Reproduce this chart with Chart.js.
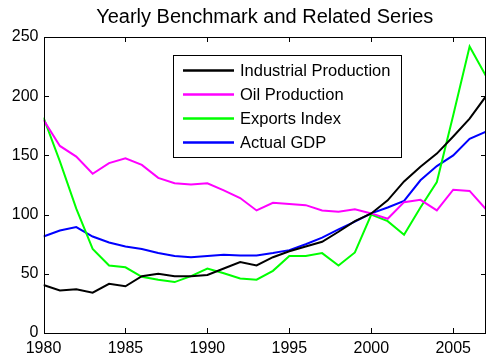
<!DOCTYPE html>
<html>
<head>
<meta charset="utf-8">
<script src="https://cdn.jsdelivr.net/npm/chart.js@4.4.0/dist/chart.umd.min.js"></script>
<style>
  body { margin: 0; background: #fff; }
  #wrap { width: 486px; height: 362px; }
</style>
</head>
<body>
<div id="wrap"><canvas id="series"></canvas></div>
<script>
const years = [1980, 1981, 1982, 1983, 1984, 1985, 1986, 1987, 1988, 1989,
  1990, 1991, 1992, 1993, 1994, 1995, 1996, 1997, 1998, 1999,
  2000, 2001, 2002, 2003, 2004, 2005, 2006, 2007]

const industrialProduction = [40.5, 36, 37, 34, 41.5, 39.5, 48, 50, 48, 48,
  49, 54.5, 60, 57, 64, 69, 73, 77, 85.5, 94.5,
  101, 112, 128, 140.5, 151.5, 166, 181, 200]
const oilProduction = [180, 158, 149, 134.5, 143.5, 147.5, 142, 131, 126.5, 125.5,
  126.5, 120.5, 114, 103.5, 110, 109, 108, 103.5, 102.5, 104.5,
  101, 96.5, 110.5, 112.5, 103.5, 121, 120, 104.5]
const exportsIndex = [182, 145, 105, 71, 57, 55.5, 47.5, 45, 43, 48,
  54.5, 50.5, 46, 45, 52.5, 65, 65, 67.5, 57, 68,
  100, 94.5, 83, 106, 127.5, 184, 242, 217]
const actualGDP = [81.5, 86.5, 89.5, 81.5, 76.5, 73, 71, 67.5, 65, 64,
  65, 66, 65.5, 65.5, 67.5, 70, 75, 80.5, 87.5, 94,
  101, 106, 111.5, 129, 141, 150, 164, 170]

const seriesNames = ['Industrial Production', 'Oil Production', 'Exports Index', 'Actual GDP']
const seriesColors = ['#000000', '#ff00ff', '#00ff00', '#0000ff']
const seriesValues = [industrialProduction, oilProduction, exportsIndex, actualGDP]

const xTicks = [1980, 1985, 1990, 1995, 2000, 2005]
const yTicks = [0, 50, 100, 150, 200, 250]

const FONT = "'Liberation Sans', Arial, Helvetica, sans-serif"

// box around the plot, inward tick marks on all four sides, boxed legend
// (thin lines are filled as 1px rects so they land on whole pixels)
const decorations = {
  id: 'decorations',
  afterDraw(chart) {
    const { ctx, chartArea: a, scales } = chart
    const len = 5
    const left = Math.round(a.left)
    const right = Math.round(a.right) - 1
    const top = Math.round(a.top)
    const bottom = Math.round(a.bottom)
    ctx.save()
    ctx.globalAlpha = 1
    ctx.globalCompositeOperation = 'source-over'
    ctx.fillStyle = '#000'
    xTicks.forEach(v => {
      const px = Math.round(scales.x.getPixelForValue(v))
      ctx.fillRect(px, bottom - len, 1, len)
      ctx.fillRect(px, top, 1, len)
    })
    yTicks.forEach(v => {
      const py = Math.round(scales.y.getPixelForValue(v))
      ctx.fillRect(left, py, len, 1)
      ctx.fillRect(right - len + 1, py, len, 1)
    })
    ctx.fillRect(left, top, right - left + 1, 1)
    ctx.fillRect(left, bottom, right - left + 1, 1)
    ctx.fillRect(left, top, 1, bottom - top + 1)
    ctx.fillRect(right, top, 1, bottom - top + 1)

    // legend
    const x0 = left + 129
    const y0 = top + 18
    const w = 228, h = 102, rowH = 24
    ctx.fillStyle = '#000'
    ctx.fillRect(x0, y0, w + 1, h + 1)
    ctx.fillStyle = '#fff'
    ctx.fillRect(x0 + 1, y0 + 1, w - 1, h - 1)
    ctx.font = '16.5px ' + FONT
    ctx.textBaseline = 'middle'
    chart.data.datasets.forEach((ds, i) => {
      const cy = y0 + 15.5 + i * rowH
      ctx.strokeStyle = ds.borderColor
      ctx.lineWidth = 2.5
      ctx.beginPath()
      ctx.moveTo(x0 + 10, cy); ctx.lineTo(x0 + 61, cy)
      ctx.stroke()
      ctx.fillStyle = '#000'
      ctx.fillText(ds.label, x0 + 67, cy + 1)
    })
    ctx.restore()
  }
}

new Chart(document.getElementById('series'), {
  type: 'line',
  data: {
    datasets: seriesNames.map((name, i) => ({
      label: name,
      data: years.map((yr, j) => ({ x: yr, y: seriesValues[i][j] })),
      borderColor: seriesColors[i],
      borderWidth: 2,
      pointRadius: 0,
      tension: 0,
      fill: false
    }))
  },
  options: {
    responsive: true,
    maintainAspectRatio: false,
    animation: false,
    layout: { padding: 0 },
    plugins: {
      legend: { display: false },
      tooltip: { enabled: false },
      title: {
        display: true,
        text: 'Yearly Benchmark and Related Series',
        fullSize: false,
        color: '#000',
        font: { family: FONT, size: 20, weight: 'normal', lineHeight: 1.2 },
        padding: { top: 5, bottom: 8 }
      }
    },
    scales: {
      x: {
        type: 'linear',
        min: 1980,
        max: 2007,
        grid: { display: false, drawTicks: false },
        border: { display: false },
        afterFit(scale) { scale.height = 29 },
        afterBuildTicks(scale) { scale.ticks = xTicks.map(v => ({ value: v })) },
        ticks: {
          color: '#000',
          padding: 6,
          maxRotation: 0,
          font: { family: FONT, size: 16 },
          callback: v => String(v)
        }
      },
      y: {
        min: 0,
        max: 250,
        grid: { display: false, drawTicks: false },
        border: { display: false },
        afterFit(scale) { scale.width = 43.5 },
        afterBuildTicks(scale) { scale.ticks = yTicks.map(v => ({ value: v })) },
        ticks: {
          color: '#000',
          padding: 5,
          font: { family: FONT, size: 16 },
          callback: v => String(v)
        }
      }
    }
  },
  plugins: [decorations]
})
</script>
</body>
</html>
